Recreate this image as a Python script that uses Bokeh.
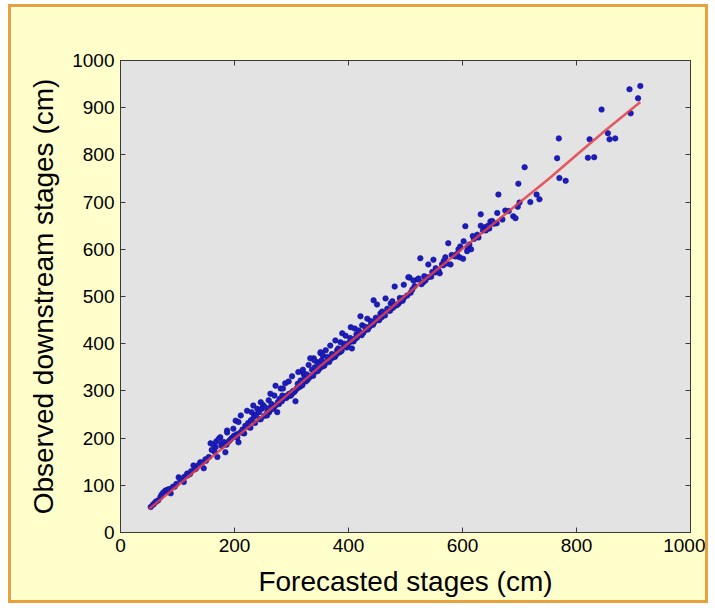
from bokeh.plotting import figure
from bokeh.models import LinearAxis, FixedTicker, Range1d
from bokeh.embed import file_html
from bokeh.resources import INLINE

x_ticks = [0, 200, 400, 600, 800, 1000]
y_ticks = [0, 100, 200, 300, 400, 500, 600, 700, 800, 900, 1000]

forecast = [
    912, 893, 908, 895, 844, 855, 858, 868, 823, 820, 831, 769, 766, 770, 781,
    709, 698, 730, 735, 719, 700, 697, 689, 693, 675, 681, 670, 663, 632, 661,
    649, 660, 605, 632, 640, 647, 626, 575, 602, 596, 609, 615, 608, 595, 601,
    526, 549, 540, 570, 579, 564, 560, 547, 540, 507, 514, 521, 481, 497, 505,
    523, 444, 465, 450, 474, 456, 421, 433, 424, 404, 411, 389, 395, 377, 386,
    368, 406, 351, 360, 339, 374, 351, 380, 333, 345, 312, 321, 301, 289, 272,
    281, 263, 307, 246, 233, 222, 211, 202, 257, 187, 198, 275, 207, 225, 187,
    175, 158, 167, 207, 202, 184, 170, 140, 128, 146, 117, 102, 111, 79, 88,
    70, 61, 53, 205,
    230, 240, 250, 260, 270, 285, 295, 320, 330, 340, 355, 236, 244, 252, 266,
    278, 291, 300, 310, 318, 326, 335, 343, 352, 362, 372, 383, 392, 401, 412,
    420, 431, 440, 452, 462, 471, 483, 492, 503, 512, 531, 552, 566, 585, 620,
    217, 228, 261, 283, 297, 305, 315, 325, 348, 366, 398, 415, 437, 458, 478,
    165, 178, 192, 150, 133, 122, 95, 84, 66, 57, 215, 246, 293, 303, 313,
    328, 338, 357, 376, 386, 409, 426, 445, 488, 497, 535, 556, 590, 641, 655,
    58, 63, 72, 75, 82, 85, 92, 98, 105, 112, 118, 124, 131, 137, 143, 149, 155,
    160, 163, 168, 172, 177, 181, 186, 190, 195, 199, 204, 210, 214, 219, 224,
    229, 234, 238, 243, 248, 253, 256, 258, 262, 265,
    268, 271, 276, 279, 284, 287, 292, 296, 299, 302, 306, 309, 311, 316, 319,
    323, 327, 331, 336, 341, 346, 349, 353, 358,
    363, 367, 371, 378, 382, 388, 393, 397, 403, 408, 414, 418, 423, 429, 434,
    439, 443, 448, 454, 459, 464, 468, 473, 477, 485, 490, 495,
    509, 516, 528, 533, 545, 553, 558, 567, 572, 581, 588, 593, 612, 618, 628,
    636, 645, 652,
]
observed = [
    946, 939, 920, 888, 896, 846, 833, 835, 833, 794, 795, 835, 793, 751, 745,
    774, 739, 716, 706, 700, 699, 690, 670, 666, 682, 681, 663, 716, 674, 677,
    659, 655, 649, 650, 647, 644, 631, 613, 617, 606, 605, 600, 596, 583, 580,
    581, 578, 568, 583, 568, 568, 549, 552, 541, 540, 534, 536, 521, 525, 541,
    538, 492, 496, 483, 485, 464, 458, 453, 439, 435, 432, 422, 417, 407, 403,
    396, 390, 380, 386, 369, 375, 382, 386, 369, 361, 340, 337, 331, 316, 311,
    305, 294, 278, 276, 269, 258, 248, 237, 248, 216, 220, 255, 234, 223, 212,
    202, 189, 181, 191, 202, 170, 160, 149, 142, 136, 125, 117, 107, 89, 83,
    75, 64, 54, 201,
    255, 262, 270, 280, 290, 305, 320, 345, 355, 365, 375, 232, 240, 247, 262,
    272, 285, 296, 305, 313, 324, 332, 341, 350, 362, 370, 381, 394, 402, 411,
    421, 430, 441, 450, 462, 470, 481, 491, 502, 515, 530, 551, 566, 586, 622,
    210, 222, 255, 278, 290, 298, 309, 320, 346, 361, 397, 413, 436, 456, 476,
    171, 183, 196, 152, 136, 124, 97, 86, 68, 59, 211, 240, 289, 300, 309,
    323, 332, 353, 372, 383, 405, 423, 445, 485, 497, 534, 555, 590, 640, 654,
    60, 66, 80, 85, 90, 92, 97, 103, 112, 118, 121, 130, 134, 143, 148, 155, 160,
    175, 186, 193, 198, 187, 192, 186, 193, 200, 205, 208, 212, 218, 226, 232,
    238, 245, 250, 255, 262, 266, 250, 256, 264, 272,
    262, 268, 276, 283, 290, 284, 290, 294, 290, 295, 300, 305, 315, 322, 312,
    330, 335, 328, 345, 350, 342, 358, 365, 355,
    372, 365, 378, 376, 390, 385, 400, 392, 412, 405, 420, 428, 418, 436, 430,
    448, 440, 455, 450, 468, 460, 474, 470, 490, 482, 497, 491,
    508, 522, 526, 543, 542, 560, 555, 575, 570, 588, 585, 600, 610, 628, 625,
    640, 650, 660,
]

fit_x = [50, 100, 150, 200, 250, 300, 350, 400, 450, 500, 550, 600, 650, 700, 750, 800, 850, 912]
fit_y = [50, 99, 150, 199, 248, 299, 352, 401, 450, 502, 552, 601, 650, 699, 748, 800, 851, 912]

FONT = "Liberation Sans"

p = figure(width=700, height=599,
           x_range=Range1d(0, 1000), y_range=Range1d(0, 1000),
           output_backend="svg", toolbar_location=None,
           min_border_left=109, min_border_top=53,
           min_border_right=21, min_border_bottom=74)
p.styles = {"border": "3px solid #E9A23B", "margin-left": "8px", "margin-top": "4px"}

p.background_fill_color = "#E3E3E3"
p.border_fill_color = "#FFFFCC"
p.outline_line_color = "#3A3A3A"
p.outline_line_width = 1
p.xgrid.visible = False
p.ygrid.visible = False

p.scatter(forecast, observed, size=5.5, fill_color="#1C1CC0", line_color="#14148C", line_width=0.6)
p.line(fit_x, fit_y, line_color="#E3404A", line_width=2.6, line_alpha=0.85)

for ax, ticks in ((p.xaxis[0], x_ticks), (p.yaxis[0], y_ticks)):
    ax.ticker = FixedTicker(ticks=ticks)
    ax.major_tick_in = 5
    ax.major_tick_out = 0
    ax.minor_tick_line_color = None
    ax.axis_line_color = "#3A3A3A"
    ax.major_tick_line_color = "#3A3A3A"
    ax.major_label_text_font = FONT
    ax.major_label_text_font_size = "19px"
    ax.major_label_text_color = "#000000"
    ax.major_label_standoff = 6
    ax.axis_label_text_font = FONT
    ax.axis_label_text_font_size = "28px"
    ax.axis_label_text_font_style = "normal"
    ax.axis_label_text_color = "#000000"

p.xaxis.axis_label = "Forecasted stages (cm)"
p.yaxis.axis_label = "Observed downstream stages (cm)"
p.xaxis.axis_label_standoff = 11
p.yaxis.axis_label_standoff = 10

top = LinearAxis(ticker=FixedTicker(ticks=x_ticks))
right = LinearAxis(ticker=FixedTicker(ticks=y_ticks))
for ax, ticks in ((top, x_ticks), (right, y_ticks)):
    ax.major_tick_in = 5
    ax.major_tick_out = 0
    ax.minor_tick_line_color = None
    ax.axis_line_color = "#3A3A3A"
    ax.major_tick_line_color = "#3A3A3A"
    ax.major_label_overrides = {t: "" for t in ticks}
    ax.major_label_standoff = 0
p.add_layout(top, "above")
p.add_layout(right, "right")

open("out.html", "w").write(file_html(p, INLINE))
